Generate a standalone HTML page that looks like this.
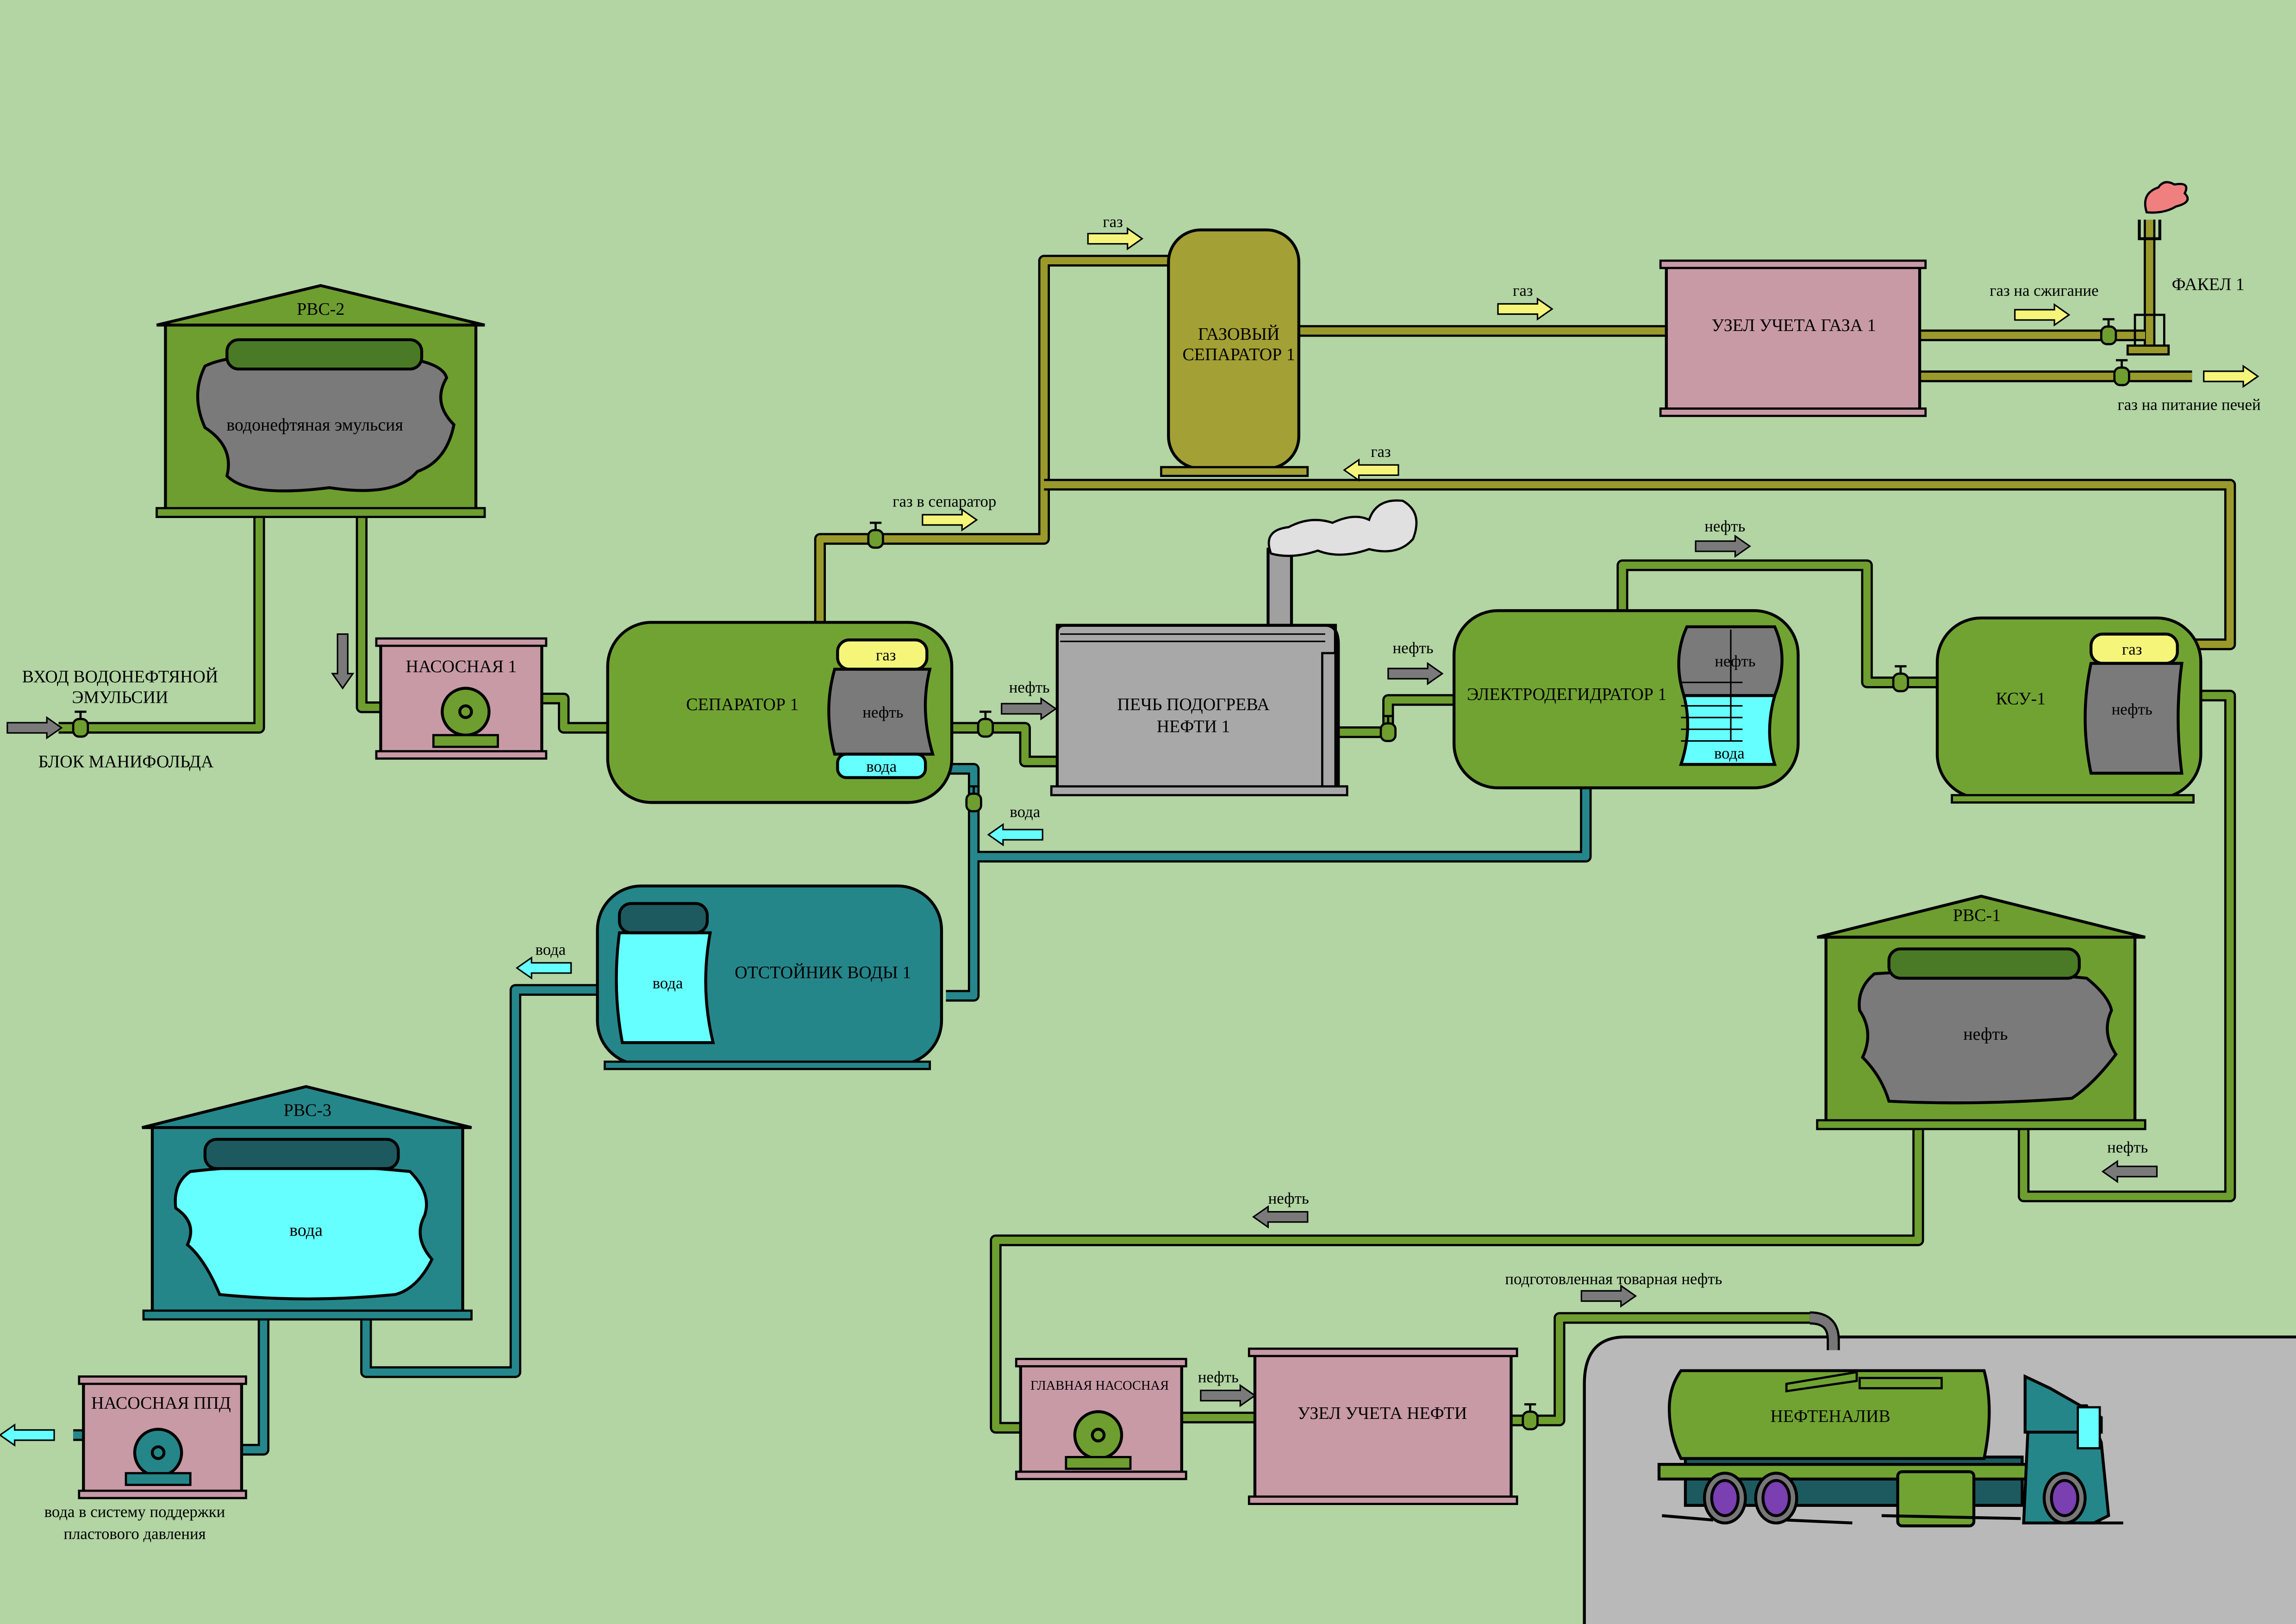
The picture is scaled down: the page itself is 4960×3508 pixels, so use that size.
<!DOCTYPE html>
<html><head><meta charset="utf-8"><style>
html,body{margin:0;padding:0;background:#b2d5a3}
svg{display:block;font-size:12px}
text{font-family:"Liberation Serif",serif;fill:#000;text-anchor:middle}
.o{fill:none;stroke:#000;stroke-width:8;stroke-linejoin:round;stroke-linecap:butt}
.g{fill:none;stroke:#6e9e30;stroke-width:5;stroke-linejoin:round}
.y{fill:none;stroke:#9a9a2c;stroke-width:5;stroke-linejoin:round}
.t{fill:none;stroke:#25878b;stroke-width:5;stroke-linejoin:round}
</style></head><body>
<svg width="4960" height="3508" viewBox="0 0 1568 1109" preserveAspectRatio="none" xmlns="http://www.w3.org/2000/svg">
<defs>
<polygon id="ar" points="0,-3.5 27,-3.5 27,-7 37,0 27,7 27,3.5 0,3.5" stroke="#000" stroke-width="1"/>
<g id="vl"><rect x="-5" y="-6" width="10" height="12" rx="4" fill="#6e9e30" stroke="#000" stroke-width="1.5"/><line x1="0" y1="-6" x2="0" y2="-11" stroke="#000" stroke-width="1.5"/><line x1="-4" y1="-11" x2="4" y2="-11" stroke="#000" stroke-width="1.5"/></g>
<path id="p1" d="M177,352 V497 H40"/>
<path id="p2" d="M247,340 V483 H300 M340,477 H385 V497 H415"/>
<path id="p3" d="M560,426 V368 H713 V178 H800"/>
<path id="p4" d="M887,226 H1138"/>
<path id="p5" d="M1311,229 H1465 M1311,257 H1497 M1468,150 V238"/>
<path id="p6" d="M1497,440 H1523 V331 H713"/>
<path id="p7" d="M650,497 H700 V520 H722"/>
<path id="p8" d="M915,500 H948 V478 H995"/>
<path id="p9" d="M1108,417 V386 H1275 V466 H1325"/>
<path id="p10" d="M1503,475 H1523 V817 H1382 V755"/>
<path id="p11" d="M1310,770 V847 H680 V975 H735"/>
<path id="p12" d="M648,525 H665 V680 H646 M1083,538 V585 H665"/>
<path id="p13" d="M408,676 H352 V937 H250 V897"/>
<path id="p14" d="M180,890 V990 H130 M108,980 H50"/>
<path id="p15" d="M765,968 H857 M1032,970 H1065 V900 H1240"/>
</defs>
<rect width="1568" height="1109" fill="#b2d5a3"/>
<path d="M1082,1112 V945 Q1082,913 1110,913 H1572 V1112 Z" fill="#b9b9b9" stroke="#000" stroke-width="2"/>

<use href="#p1" class="o"/><use href="#p1" class="g"/>
<use href="#p2" class="o"/><use href="#p2" class="g"/>
<use href="#p3" class="o"/><use href="#p3" class="y"/>
<use href="#p4" class="o"/><use href="#p4" class="y"/>
<use href="#p5" class="o"/><use href="#p5" class="y"/>
<use href="#p6" class="o"/><use href="#p6" class="y"/>
<use href="#p7" class="o"/><use href="#p7" class="g"/>
<use href="#p8" class="o"/><use href="#p8" class="g"/>
<use href="#p9" class="o"/><use href="#p9" class="g"/>
<use href="#p10" class="o"/><use href="#p10" class="g"/>
<use href="#p11" class="o"/><use href="#p11" class="g"/>
<use href="#p12" class="o"/><use href="#p12" class="t"/>
<use href="#p13" class="o"/><use href="#p13" class="t"/>
<use href="#p14" class="o"/><use href="#p14" class="t"/>
<use href="#p15" class="o"/><use href="#p15" class="g"/>
<path d="M1236,900 Q1252,900 1252,915 V922" fill="none" stroke="#000" stroke-width="9"/>
<path d="M1236,900 Q1252,900 1252,915 V922" fill="none" stroke="#777" stroke-width="6"/>

<use href="#vl" x="55" y="497"/><use href="#vl" x="598" y="368"/><use href="#vl" x="673" y="497"/>
<use href="#vl" x="948" y="500"/><use href="#vl" x="1298" y="466"/><use href="#vl" x="1440" y="229"/>
<use href="#vl" x="1449" y="257"/><use href="#vl" x="665" y="548"/><use href="#vl" x="72" y="980"/>
<use href="#vl" x="790" y="968"/><use href="#vl" x="1045" y="970"/><use href="#vl" x="355" y="477"/>

<polygon points="107,222 219,195 331,222" fill="#6e9e30" stroke="#000" stroke-width="2"/>
<rect x="113" y="222" width="212" height="126" fill="#6e9e30" stroke="#000" stroke-width="2"/>
<rect x="107" y="347" width="224" height="6" fill="#6e9e30" stroke="#000" stroke-width="1.5"/>
<text x="219" y="215">РВС-2</text>
<path d="M140,250 Q160,240 220,243 Q300,240 305,258 Q295,275 310,290 Q305,315 285,322 Q270,340 225,333 Q170,340 155,325 Q160,305 140,292 Q130,270 140,250Z" fill="#7a7a7a" stroke="#000" stroke-width="2"/>
<rect x="155" y="232" width="133" height="20" rx="8" fill="#4a7a26" stroke="#000" stroke-width="2"/>
<text x="215" y="294">водонефтяная эмульсия</text>
<use href="#ar" x="5" y="497" fill="#7a7a7a"/>
<text x="82" y="466">ВХОД ВОДОНЕФТЯНОЙ</text><text x="82" y="480">ЭМУЛЬСИИ</text>
<text x="86" y="524">БЛОК МАНИФОЛЬДА</text>
<use href="#ar" transform="translate(234,433) rotate(90)" fill="#7a7a7a"/>

<rect x="260" y="440" width="110" height="75" fill="#c89aa6" stroke="#000" stroke-width="2"/>
<rect x="257" y="436" width="116" height="5" fill="#c89aa6" stroke="#000" stroke-width="1.5"/>
<rect x="257" y="513" width="116" height="5" fill="#c89aa6" stroke="#000" stroke-width="1.5"/>
<text x="315" y="459">НАСОСНАЯ 1</text>
<circle cx="318" cy="486" r="16" fill="#6e9e30" stroke="#000" stroke-width="2"/><circle cx="318" cy="486" r="4" fill="none" stroke="#000" stroke-width="2"/>
<rect x="296" y="502" width="44" height="8" fill="#6e9e30" stroke="#000" stroke-width="1.5"/>

<rect x="415" y="425" width="235" height="123" rx="30" fill="#71a333" stroke="#000" stroke-width="2"/>
<text x="507" y="485">СЕПАРАТОР 1</text>
<rect x="572" y="437" width="61" height="20" rx="8" fill="#f5f57a" stroke="#000" stroke-width="2"/>
<path d="M570,457 H635 Q628,485 637,515 H570 Q562,485 570,457Z" fill="#7a7a7a" stroke="#000" stroke-width="2"/>
<rect x="572" y="515" width="60" height="16" rx="6" fill="#66ffff" stroke="#000" stroke-width="2"/>
<text x="605" y="451" font-size="11">газ</text><text x="603" y="490" font-size="11">нефть</text><text x="602" y="527" font-size="11">вода</text>
<text x="645" y="346" font-size="11">газ в сепаратор</text>
<use href="#ar" x="630" y="355" fill="#f5f57a"/>
<use href="#ar" x="743" y="163" fill="#f5f57a"/><text x="760" y="155" font-size="11">газ</text>

<rect x="798" y="157" width="89" height="163" rx="22" fill="#a3a035" stroke="#000" stroke-width="2"/>
<rect x="793" y="319" width="100" height="6" fill="#a3a035" stroke="#000" stroke-width="1.5"/>
<text x="846" y="232">ГАЗОВЫЙ</text><text x="846" y="246">СЕПАРАТОР 1</text>
<use href="#ar" x="1023" y="211" fill="#f5f57a"/><text x="1040" y="202" font-size="11">газ</text>

<rect x="1138" y="182" width="173" height="98" fill="#c89aa6" stroke="#000" stroke-width="2"/>
<rect x="1134" y="178" width="181" height="5" fill="#c89aa6" stroke="#000" stroke-width="1.5"/>
<rect x="1134" y="279" width="181" height="5" fill="#c89aa6" stroke="#000" stroke-width="1.5"/>
<text x="1225" y="226">УЗЕЛ УЧЕТА ГАЗА 1</text>
<text x="1396" y="202" font-size="11">газ на сжигание</text><use href="#ar" x="1376" y="215" fill="#f5f57a"/>
<use href="#ar" x="1505" y="257" fill="#f5f57a"/><text x="1495" y="280" font-size="11">газ на питание печей</text>
<rect x="1458" y="215" width="20" height="22" fill="none" stroke="#000" stroke-width="1.5"/>
<rect x="1453" y="236" width="28" height="6" fill="#9a9a2c" stroke="#000" stroke-width="1.5"/>
<path d="M1461,150 V163 H1475 V150" fill="none" stroke="#000" stroke-width="2"/>
<path d="M1466,145 Q1462,132 1474,128 Q1478,122 1485,126 Q1496,124 1492,132 Q1498,138 1486,141 Q1478,146 1466,145Z" fill="#f08080" stroke="#000" stroke-width="1.5"/>
<text x="1508" y="198">ФАКЕЛ 1</text>
<use href="#ar" transform="translate(955,321) scale(-1,1)" fill="#f5f57a"/><text x="943" y="312" font-size="11">газ</text>

<rect x="866" y="375" width="16" height="52" fill="#a0a0a0" stroke="#000" stroke-width="2"/>
<path d="M868,378 Q862,362 880,360 Q895,352 910,357 Q925,350 935,355 Q940,340 958,342 Q972,350 965,368 Q955,380 935,375 Q915,382 900,376 Q882,382 868,378Z" fill="#e0e0e0" stroke="#000" stroke-width="1.5"/>
<rect x="722" y="427" width="190" height="112" fill="#a8a8a8" stroke="#000" stroke-width="2"/>
<path d="M722,432 Q722,427 727,427 H905 Q914,427 914,440 V539" fill="none" stroke="#000" stroke-width="2"/>
<line x1="724" y1="433" x2="905" y2="433" stroke="#000" stroke-width="1"/><line x1="724" y1="438" x2="905" y2="438" stroke="#000" stroke-width="1"/>
<rect x="903" y="446" width="9" height="92" fill="#a8a8a8" stroke="#000" stroke-width="1.5"/>
<rect x="718" y="537" width="202" height="6" fill="#a8a8a8" stroke="#000" stroke-width="1.5"/>
<text x="815" y="485">ПЕЧЬ ПОДОГРЕВА</text><text x="815" y="500">НЕФТИ 1</text>
<use href="#ar" x="684" y="484" fill="#7a7a7a"/><text x="703" y="473" font-size="11">нефть</text>
<use href="#ar" x="948" y="460" fill="#7a7a7a"/><text x="965" y="446" font-size="11">нефть</text>

<rect x="993" y="417" width="235" height="121" rx="30" fill="#71a333" stroke="#000" stroke-width="2"/>
<text x="1070" y="478">ЭЛЕКТРОДЕГИДРАТОР 1</text>
<path d="M1152,428 H1212 Q1222,450 1212,475 H1150 Q1142,450 1152,428Z" fill="#7a7a7a" stroke="#000" stroke-width="2"/>
<path d="M1150,475 H1212 Q1205,500 1212,522 H1148 Q1156,498 1150,475Z" fill="#66ffff" stroke="#000" stroke-width="2"/>
<g stroke="#000" stroke-width="1"><line x1="1148" y1="466" x2="1190" y2="466"/><line x1="1148" y1="482" x2="1190" y2="482"/><line x1="1148" y1="490" x2="1190" y2="490"/><line x1="1148" y1="498" x2="1190" y2="498"/><line x1="1148" y1="506" x2="1190" y2="506"/><line x1="1182" y1="430" x2="1182" y2="506"/></g>
<text x="1185" y="455" font-size="11">нефть</text><text x="1181" y="518" font-size="11">вода</text>
<use href="#ar" x="1158" y="373" fill="#7a7a7a"/><text x="1178" y="363" font-size="11">нефть</text>

<rect x="1323" y="422" width="180" height="123" rx="30" fill="#71a333" stroke="#000" stroke-width="2"/>
<rect x="1333" y="543" width="165" height="5" fill="#71a333" stroke="#000" stroke-width="1.5"/>
<text x="1380" y="481">КСУ-1</text>
<rect x="1428" y="433" width="59" height="20" rx="8" fill="#f5f57a" stroke="#000" stroke-width="2"/>
<path d="M1428,453 H1490 Q1485,490 1490,528 H1428 Q1420,490 1428,453Z" fill="#7a7a7a" stroke="#000" stroke-width="2"/>
<text x="1456" y="447" font-size="11">газ</text><text x="1456" y="488" font-size="11">нефть</text>
<use href="#ar" transform="translate(1473,800) scale(-1,1)" fill="#7a7a7a"/><text x="1453" y="787" font-size="11">нефть</text>

<polygon points="1241,640 1353,612 1465,640" fill="#6e9e30" stroke="#000" stroke-width="2"/>
<rect x="1247" y="640" width="211" height="126" fill="#6e9e30" stroke="#000" stroke-width="2"/>
<rect x="1241" y="765" width="224" height="6" fill="#6e9e30" stroke="#000" stroke-width="1.5"/>
<text x="1350" y="629">РВС-1</text>
<path d="M1280,665 Q1350,660 1425,668 Q1440,680 1442,690 Q1435,705 1445,720 Q1430,740 1415,750 Q1350,755 1290,752 Q1285,735 1272,722 Q1280,705 1270,690 Q1268,675 1280,665Z" fill="#7a7a7a" stroke="#000" stroke-width="2"/>
<rect x="1290" y="648" width="130" height="20" rx="8" fill="#4a7a26" stroke="#000" stroke-width="2"/>
<text x="1356" y="710">нефть</text>
<use href="#ar" transform="translate(893,831) scale(-1,1)" fill="#7a7a7a"/><text x="880" y="822" font-size="11">нефть</text>

<use href="#ar" transform="translate(712,570) scale(-1,1)" fill="#66ffff"/><text x="700" y="558" font-size="11">вода</text>
<rect x="408" y="605" width="235" height="122" rx="30" fill="#25868a" stroke="#000" stroke-width="2"/>
<rect x="413" y="725" width="222" height="5" fill="#25868a" stroke="#000" stroke-width="1.5"/>
<text x="562" y="668">ОТСТОЙНИК ВОДЫ 1</text>
<path d="M423,637 H485 Q478,675 487,712 H425 Q418,675 423,637Z" fill="#66ffff" stroke="#000" stroke-width="2"/>
<rect x="423" y="617" width="60" height="20" rx="8" fill="#1d5a60" stroke="#000" stroke-width="2"/>
<text x="456" y="675" font-size="11">вода</text>
<use href="#ar" transform="translate(390,661) scale(-1,1)" fill="#66ffff"/><text x="376" y="652" font-size="11">вода</text>

<polygon points="97,770 209,742 322,770" fill="#25868a" stroke="#000" stroke-width="2"/>
<rect x="104" y="770" width="212" height="126" fill="#25868a" stroke="#000" stroke-width="2"/>
<rect x="98" y="895" width="224" height="6" fill="#25868a" stroke="#000" stroke-width="1.5"/>
<text x="210" y="762">РВС-3</text>
<path d="M130,800 Q200,792 280,800 Q295,815 290,830 Q282,845 295,860 Q285,880 270,884 Q210,890 150,884 Q140,860 128,850 Q135,835 120,825 Q118,808 130,800Z" fill="#66ffff" stroke="#000" stroke-width="2"/>
<rect x="140" y="778" width="132" height="20" rx="8" fill="#1d5a60" stroke="#000" stroke-width="2"/>
<text x="209" y="844">вода</text>

<rect x="57" y="944" width="108" height="76" fill="#c89aa6" stroke="#000" stroke-width="2"/>
<rect x="54" y="940" width="114" height="5" fill="#c89aa6" stroke="#000" stroke-width="1.5"/>
<rect x="54" y="1018" width="114" height="5" fill="#c89aa6" stroke="#000" stroke-width="1.5"/>
<text x="110" y="962">НАСОСНАЯ ППД</text>
<circle cx="108" cy="992" r="16" fill="#25868a" stroke="#000" stroke-width="2"/><circle cx="108" cy="992" r="4" fill="none" stroke="#000" stroke-width="2"/>
<rect x="86" y="1006" width="44" height="8" fill="#25868a" stroke="#000" stroke-width="1.5"/>
<use href="#ar" transform="translate(37,980) scale(-1,1)" fill="#66ffff"/>
<text x="92" y="1036" font-size="11">вода в систему поддержки</text><text x="92" y="1051" font-size="11">пластового давления</text>

<rect x="697" y="932" width="110" height="75" fill="#c89aa6" stroke="#000" stroke-width="2"/>
<rect x="694" y="928" width="116" height="5" fill="#c89aa6" stroke="#000" stroke-width="1.5"/>
<rect x="694" y="1005" width="116" height="5" fill="#c89aa6" stroke="#000" stroke-width="1.5"/>
<text x="751" y="949" font-size="9">ГЛАВНАЯ НАСОСНАЯ</text>
<circle cx="750" cy="980" r="16" fill="#6e9e30" stroke="#000" stroke-width="2"/><circle cx="750" cy="980" r="4" fill="none" stroke="#000" stroke-width="2"/>
<rect x="728" y="995" width="44" height="8" fill="#6e9e30" stroke="#000" stroke-width="1.5"/>
<use href="#ar" x="820" y="953" fill="#7a7a7a"/><text x="832" y="944" font-size="11">нефть</text>

<rect x="857" y="925" width="175" height="98" fill="#c89aa6" stroke="#000" stroke-width="2"/>
<rect x="853" y="921" width="183" height="5" fill="#c89aa6" stroke="#000" stroke-width="1.5"/>
<rect x="853" y="1022" width="183" height="5" fill="#c89aa6" stroke="#000" stroke-width="1.5"/>
<text x="944" y="969">УЗЕЛ УЧЕТА НЕФТИ</text>
<use href="#ar" x="1080" y="885" fill="#7a7a7a"/><text x="1102" y="877" font-size="11">подготовленная товарная нефть</text>

<rect x="1151" y="995" width="230" height="33" fill="#1d5a60" stroke="#000" stroke-width="2"/>
<rect x="1133" y="1000" width="255" height="10" fill="#71a333" stroke="#000" stroke-width="2"/>
<rect x="1296" y="1005" width="52" height="37" rx="3" fill="#71a333" stroke="#000" stroke-width="2"/>
<path d="M1140,962 Q1140,947 1148,936 H1355 Q1362,962 1355,996 H1148 Q1140,980 1140,962Z" fill="#71a333" stroke="#000" stroke-width="2"/>
<rect x="1270" y="941" width="56" height="7" fill="#71a333" stroke="#000" stroke-width="1.5"/>
<polygon points="1220,950 1268,943 1268,937 1220,945" fill="#71a333" stroke="#000" stroke-width="1.5"/>
<text x="1250" y="971">НЕФТЕНАЛИВ</text>
<path d="M1382,1040 L1385,975 V960 L1425,960 L1435,985 L1440,1035 L1430,1040Z" fill="#25868a" stroke="#000" stroke-width="2"/>
<path d="M1383,958 V978 H1435 V968 L1400,948 L1383,940Z" fill="#25868a" stroke="#000" stroke-width="2"/>
<rect x="1419" y="961" width="15" height="28" fill="#66ffff" stroke="#000" stroke-width="1.5"/>
<g stroke="#000" stroke-width="2">
<ellipse cx="1178" cy="1023" rx="14" ry="17" fill="#777"/><ellipse cx="1178" cy="1023" rx="9" ry="12" fill="#7a3fb0"/>
<ellipse cx="1213" cy="1023" rx="14" ry="17" fill="#777"/><ellipse cx="1213" cy="1023" rx="9" ry="12" fill="#7a3fb0"/>
<ellipse cx="1410" cy="1023" rx="14" ry="17" fill="#777"/><ellipse cx="1410" cy="1023" rx="9" ry="12" fill="#7a3fb0"/>
<line x1="1135" y1="1035" x2="1170" y2="1038"/><line x1="1220" y1="1038" x2="1265" y2="1040"/><line x1="1285" y1="1035" x2="1380" y2="1037"/><line x1="1420" y1="1040" x2="1450" y2="1040"/>
</g>
</svg>
</body></html>
